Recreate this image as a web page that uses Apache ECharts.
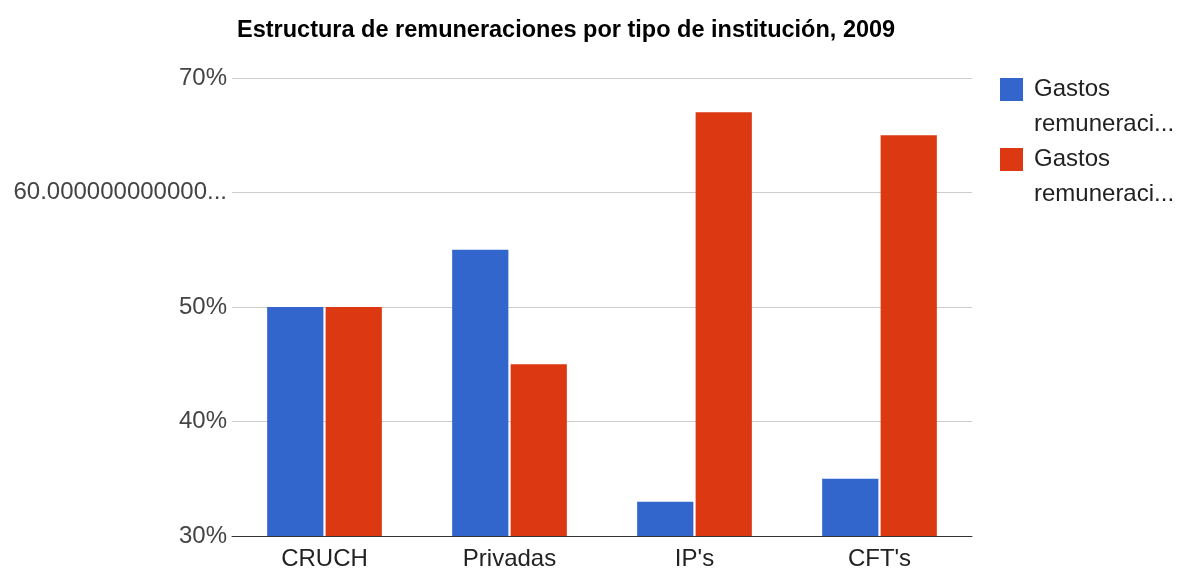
<!DOCTYPE html>
<html>
<head>
<meta charset="utf-8">
<script src="https://cdn.jsdelivr.net/npm/echarts@6/dist/echarts.min.js"></script>
<style>
  html, body { margin: 0; padding: 0; background: #fff; }
  #main { width: 1186px; height: 571px; }
</style>
</head>
<body>
<div id="main"></div>
<script>
// datos del gráfico
var categorias = ['CRUCH', 'Privadas', "IP's", "CFT's"];
var serie1 = [50, 55, 33, 35];
var serie2 = [50, 45, 67, 65];
var nombres = ['Gastos remuneraciones 1', 'Gastos remuneraciones 2'];
// línea en blanco arriba para que "Gastos" quede a la altura del icono
var etiquetaLeyenda = ' \nGastos\nremuneraci...';

var myChart = echarts.init(document.getElementById('main'));
var fuente = 'Liberation Sans, Arial, sans-serif';

myChart.setOption({
    animation: false,
    title: {
        text: 'Estructura de remuneraciones por tipo de institución, 2009',
        left: 232,
        top: 14,
        textStyle: {
            fontFamily: fuente,
            fontWeight: 'bold',
            fontSize: 23.5,
            color: '#000'
        }
    },
    color: ['#3366cc', '#dc3912'],
    legend: {
        orient: 'vertical',
        left: 995,
        top: 32,
        itemWidth: 23,
        itemHeight: 23,
        itemGap: -35,
        icon: 'rect',
        formatter: function () { return etiquetaLeyenda; },
        textStyle: {
            fontFamily: fuente,
            fontSize: 24,
            color: '#222',
            lineHeight: 35,
            padding: [0, 0, 0, 6]
        },
        data: nombres
    },
    grid: {
        left: 232,
        right: 214,
        top: 78,
        bottom: 34
    },
    xAxis: {
        type: 'category',
        data: categorias,
        axisTick: { show: false },
        axisLine: { lineStyle: { color: '#333', width: 1 } },
        axisLabel: {
            margin: 11,
            fontFamily: fuente,
            fontSize: 24,
            color: '#222'
        }
    },
    yAxis: {
        type: 'value',
        min: 30,
        max: 70,
        interval: 10,
        axisLine: { show: false },
        axisTick: { show: false },
        splitLine: { lineStyle: { color: '#cccccc' } },
        axisLabel: {
            margin: 5,
            fontFamily: fuente,
            fontSize: 24,
            color: '#444',
            formatter: function (v) {
                return v === 60 ? '60.000000000000...' : v + '%';
            }
        }
    },
    series: [
        {
            name: nombres[0],
            type: 'bar',
            barGap: '4%',
            barCategoryGap: '38%',
            data: serie1
        },
        {
            name: nombres[1],
            type: 'bar',
            data: serie2
        }
    ]
});
</script>
</body>
</html>
